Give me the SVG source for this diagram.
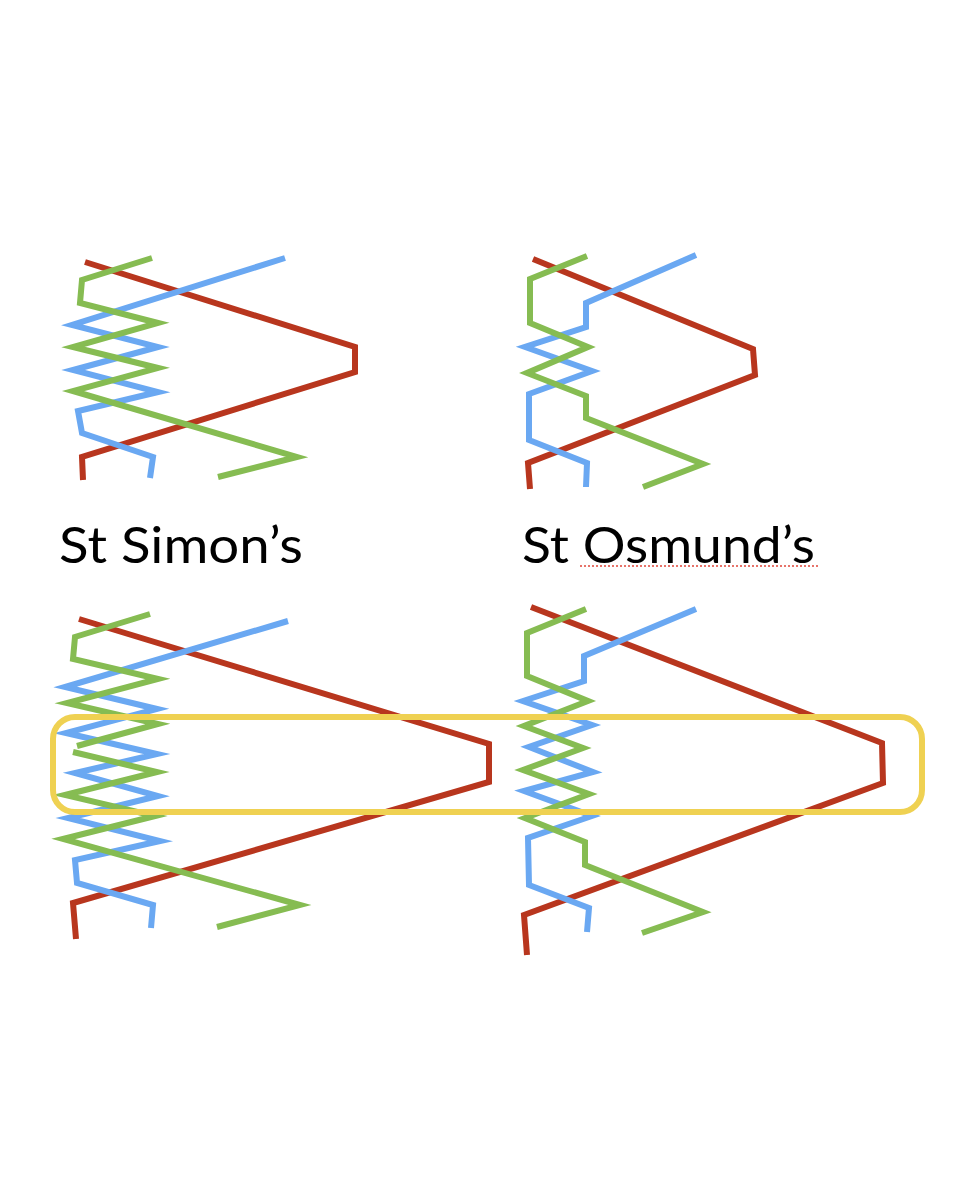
<svg xmlns="http://www.w3.org/2000/svg" width="962" height="1192" viewBox="0 0 962 1192">
<style>
.l{fill:none;stroke-width:6;stroke-linejoin:miter;stroke-miterlimit:6;stroke-linecap:butt}
.r{stroke:#B8361E}
.b{stroke:#6AA8F2}
.g{stroke:#86BC52}
.t{font-family:"Lato","Liberation Sans",Arial,sans-serif;font-size:50px;fill:#000}
</style>
<rect width="962" height="1192" fill="#fff"/>
<g id="st-simons-top">
<polyline class="l r" points="85,262 355,347 355,372 82,457 83,480"/>
<polyline class="l b" points="285,258 72,325 158,347 73,370 158,392 78,411 82,433 153,457 150,478"/>
<polyline class="l g" points="152,258 82,280 80,303 158,323 73,347 158,368 73,391 297,457 218,477"/>
</g>
<g id="st-osmunds-top">
<polyline class="l r" points="533,259 753,349 755,375 528,463 530,489"/>
<polyline class="l b" points="696,255 586,303 586,327 525,347 592,371 529,394 529,440 587,463 586,487"/>
<polyline class="l g" points="587,256 530,279 530,323 588,347 527,373 586,396 586,418 703,464 643,487"/>
</g>
<g id="labels">
<text class="t" x="59" y="563" textLength="244" lengthAdjust="spacingAndGlyphs">St Simon’s</text>
<text class="t" x="522" y="563" textLength="293" lengthAdjust="spacingAndGlyphs">St Osmund’s</text>
<line x1="580" y1="566" x2="820" y2="566" stroke="#E0463A" stroke-width="1.5" stroke-dasharray="2,2"/>
</g>
<g id="st-simons-bottom">
<polyline class="l r" points="79,619 489,744 489,782 73,903 76,939"/>
<polyline class="l b" points="288,621 65,687 157,709 66,733 157,754 75,773 158,796 68,818 160,841 75,860 77,883 153,905 151,928"/>
<polyline class="l g" points="150,614 75,637 73,659 158,679 67,703 158,724 77,746"/>
<polyline class="l g" points="73,752 157,772 65,795 155,816 63,839 300,905 217,927"/>
</g>
<g id="st-osmunds-bottom">
<polyline class="l r" points="531,607 882,743 883,783 524,915 527,955"/>
<polyline class="l b" points="696,609 584,656 584,681 523,701 592,725 529,747 593,772 524,791 592,816 528,838 529,885 589,908 587,932"/>
<polyline class="l g" points="586,609 527,633 527,676 588,701 524,726 583,748 523,770 589,794 525,818 585,842 585,865 703,912 642,933"/>
</g>
<g id="highlight">
<rect x="53" y="717" width="869" height="95" rx="22" fill="none" stroke="#EFD152" stroke-width="6"/>
</g>
</svg>
